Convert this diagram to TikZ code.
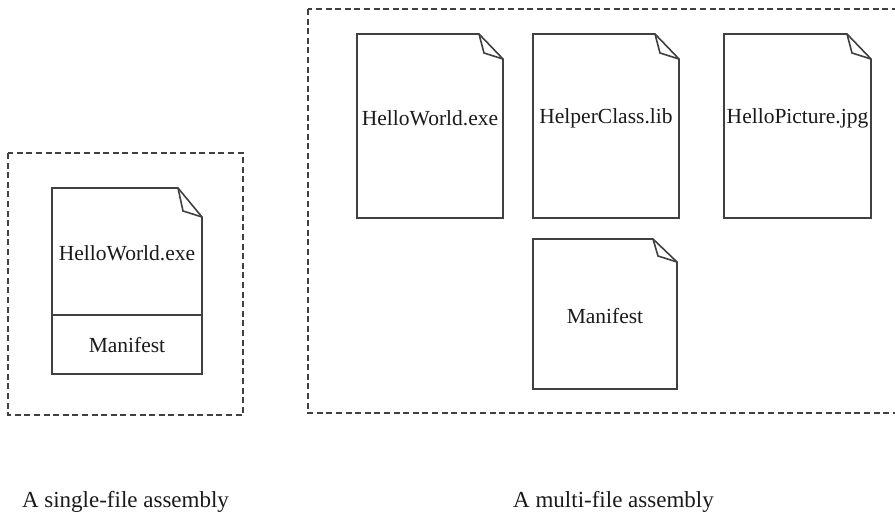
\documentclass[tikz,border=0pt]{standalone}
\usepackage{fontspec}
\setmainfont{Liberation Serif}
\definecolor{ln}{HTML}{404040}
\definecolor{tx}{HTML}{1A1A1A}
\tikzset{
  docline/.style={draw=ln, line width=1.6pt, line join=miter},
  assembox/.style={draw=ln, line width=2pt, dash pattern=on 6pt off 3.6pt},
  docbox/.style={draw=none, inner sep=0pt, outer sep=0pt},
  doctext/.style={text=tx, font=\fontsize{21.5}{24}\selectfont, inner sep=0pt},
  captext/.style={text=tx, font=\fontsize{23}{26}\selectfont, inner sep=0pt},
}
\newcommand\docfold[3]{% name, fold width, fold height
  \draw[docline, fill=white] (#1.north west) -- ([xshift=-#2]#1.north east)
     -- ([yshift=-#3]#1.north east) -- (#1.south east) -- (#1.south west) -- cycle;
  \draw[docline] ([xshift=-#2]#1.north east) -- ([xshift=-#2+5pt,yshift=-#3+6pt]#1.north east)
     -- ([yshift=-#3]#1.north east);
}
\begin{document}
\begin{tikzpicture}[x=1pt,y=-1pt]
\clip (0,0) rectangle (895,516);
\useasboundingbox (0,0) rectangle (895,516);
% assembly boxes
\node[docbox, minimum width=235pt, minimum height=262pt] (single) at (125.5,284) {};
\draw[assembox] (single.north west) rectangle (single.south east);
\node[docbox, minimum width=611pt, minimum height=404pt] (multi) at (613.5,211) {};
\draw[assembox] (multi.north west) rectangle (multi.south east);
% single-file assembly document
\node[docbox, minimum width=150pt, minimum height=186pt] (sdoc) at (127,281) {};
\docfold{sdoc}{24pt}{29pt}
\coordinate (divl) at (52,315);
\coordinate (divr) at (202,315);
\draw[docline] (divl) -- (divr);
\node[doctext] (sexe) at (127,253) {HelloWorld.exe};
\node[doctext] (sman) at (127,345) {Manifest};
% multi-file assembly documents
\node[docbox, minimum width=146pt, minimum height=184pt] (d1) at (430,126) {};
\node[docbox, minimum width=146pt, minimum height=184pt] (d2) at (606,126) {};
\node[docbox, minimum width=147pt, minimum height=184pt] (d3) at (797.5,126) {};
\node[docbox, minimum width=144pt, minimum height=150pt] (d4) at (605,314) {};
\docfold{d1}{24pt}{25pt}
\docfold{d2}{24pt}{25pt}
\docfold{d3}{24pt}{25pt}
\docfold{d4}{24pt}{23pt}
\node[doctext] (t1) at (430,118) {HelloWorld.exe};
\node[doctext] (t2) at (606,118) {HelperClass.lib};
\node[doctext] (t3) at (797.5,118) {HelloPicture.jpg};
\node[doctext] (t4) at (605,316) {Manifest};
% captions
\node[captext] (cap1) at (125.5,502) {A single-file assembly};
\node[captext] (cap2) at (613.5,502) {A multi-file assembly};
\end{tikzpicture}
\end{document}
